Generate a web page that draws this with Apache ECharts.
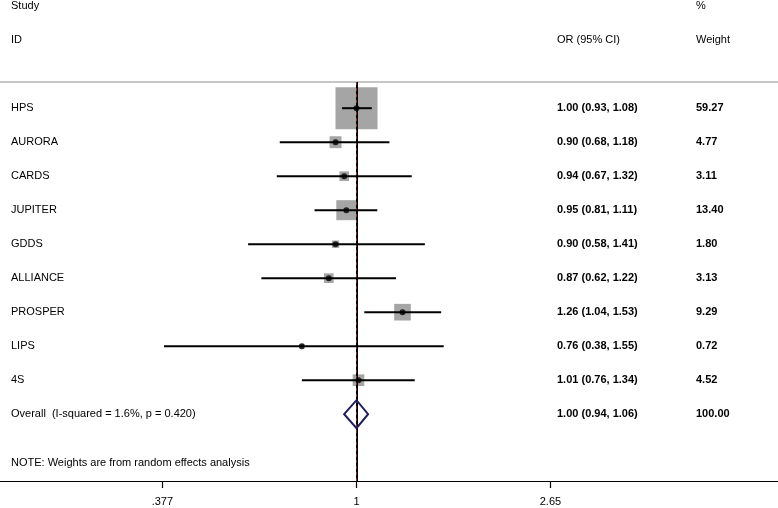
<!DOCTYPE html>
<html><head><meta charset="utf-8">
<script src="https://cdn.jsdelivr.net/npm/echarts@6/dist/echarts.min.js"></script>
<style>html,body{margin:0;padding:0;background:#fff}#c{width:778px;height:508px}</style>
</head><body><div id="c"></div>
<script>
// ---- data ----
const studies = ['HPS','AURORA','CARDS','JUPITER','GDDS','ALLIANCE','PROSPER','LIPS','4S'];
const orValues = [1.00, 0.90, 0.94, 0.95, 0.90, 0.87, 1.26, 0.76, 1.01];
const ciLow    = [0.93, 0.68, 0.67, 0.81, 0.58, 0.62, 1.04, 0.38, 0.76];
const ciHigh   = [1.08, 1.18, 1.32, 1.11, 1.41, 1.22, 1.53, 1.55, 1.34];
const weights  = [59.27, 4.77, 3.11, 13.40, 1.80, 3.13, 9.29, 0.72, 4.52];
const overallLabel = 'Overall  (I-squared = 1.6%, p = 0.420)';
const overallOR = 1.00, overallLow = 0.94, overallHigh = 1.06, overallWeight = 100.00;
const tickValues = [0.377, 1, 2.65];
const tickLabels = ['.377', '1', '2.65'];
const headerStudy = ['Study', 'ID'];
const headerOR = ['', 'OR (95% CI)'];
const headerWeight = ['%', 'Weight'];
const noteText = 'NOTE: Weights are from random effects analysis';
const nullValue = 1;

// ---- layout ----
const FONT = '"Liberation Sans", Arial, Helvetica, sans-serif';
const X_MIN = 0.1667, X_MAX = 8.316;
const Y_MIN = -3.182, Y_MAX = 10.965;
const SEP_ROW = -0.77, NOTE_ROW = 10.43;
const COL_STUDY = 11, COL_OR = 557, COL_W = 696;
const DIAMOND_HALF = 14;

const rows = studies.map((s, i) => i);
const fmt = v => v.toFixed(2);

const textRows = [
  {y: -3, a: headerStudy[0], b: headerOR[0], c: headerWeight[0], bold: false},
  {y: -2, a: headerStudy[1], b: headerOR[1], c: headerWeight[1], bold: false}
];
studies.forEach((s, i) => textRows.push({
  y: i, a: s, b: fmt(orValues[i]) + ' (' + fmt(ciLow[i]) + ', ' + fmt(ciHigh[i]) + ')',
  c: fmt(weights[i]), bold: true
}));
textRows.push({y: studies.length, a: overallLabel,
  b: fmt(overallOR) + ' (' + fmt(overallLow) + ', ' + fmt(overallHigh) + ')',
  c: fmt(overallWeight), bold: true});
textRows.push({y: NOTE_ROW, a: noteText, b: '', c: '', bold: false});

const chart = echarts.init(document.getElementById('c'), null, {renderer: 'canvas'});

const txt = (x, y, s, bold) => ({
  type: 'text', x: x, y: y,
  style: {text: s, fill: '#000', font: (bold ? 'bold ' : '') + '11px ' + FONT,
          textAlign: 'left', textVerticalAlign: 'middle'}
});

chart.setOption({
  animation: false,
  backgroundColor: '#fff',
  grid: {left: 0, right: 0, top: 0, bottom: 27, containLabel: false},
  xAxis: {
    type: 'log', logBase: 2.65, min: X_MIN, max: X_MAX,
    axisLine: {show: true, onZero: false, lineStyle: {color: '#000', width: 1}},
    axisTick: {show: true, length: 7, lineStyle: {color: '#000', width: 1.2}, customValues: tickValues},
    axisLabel: {show: true, margin: 15, color: '#000', fontSize: 11, fontFamily: FONT,
      customValues: tickValues,
      formatter: v => { let k = 0, d = Infinity; tickValues.forEach((t, i) => { const e = Math.abs(Math.log(t) - Math.log(v)); if (e < d) { d = e; k = i; } }); return tickLabels[k]; }},
    splitLine: {show: false}
  },
  yAxis: {
    type: 'value', inverse: true, min: Y_MIN, max: Y_MAX,
    show: false, splitLine: {show: false}
  },
  series: [
    { // weight boxes
      type: 'scatter', symbol: 'rect',
      data: rows.map(i => [orValues[i], i, weights[i]]),
      symbolSize: d => 5.46 * Math.sqrt(d[2]),
      itemStyle: {color: '#8e8e8e'},
      markLine: {
        silent: true, symbol: 'none', label: {show: false},
        data: [
          [{coord: [X_MIN, SEP_ROW]}, {coord: [X_MAX, SEP_ROW]}]
        ],
        lineStyle: {color: '#c6c6c6', width: 2, type: 'solid'}
      },
      z: 2
    },
    { // null line
      type: 'line', data: [], 
      markLine: {
        silent: true, symbol: 'none', label: {show: false},
        data: [[{coord: [nullValue, SEP_ROW]}, {coord: [nullValue, Y_MAX]}]],
        lineStyle: {color: '#000', width: 2, type: 'solid'}
      },
      z: 3
    },
    { // overall effect line
      type: 'line', data: [],
      markLine: {
        silent: true, symbol: 'none', label: {show: false},
        data: [[{coord: [overallOR, SEP_ROW]}, {coord: [overallOR, Y_MAX]}]],
        lineStyle: {color: '#b03030', width: 0.8, type: [3, 3]}
      },
      z: 4
    },
    { // CI lines
      type: 'custom',
      data: rows.map(i => [ciLow[i], ciHigh[i], i]),
      encode: {x: [0, 1], y: 2},
      renderItem: (params, api) => {
        const p1 = api.coord([api.value(0), api.value(2)]);
        const p2 = api.coord([api.value(1), api.value(2)]);
        return {type: 'line', shape: {x1: p1[0], y1: p1[1], x2: p2[0], y2: p2[1]},
                style: {stroke: '#000', lineWidth: 2}};
      },
      z: 5
    },
    { // point estimates
      type: 'scatter', symbol: 'circle', symbolSize: 6,
      data: rows.map(i => [orValues[i], i]),
      itemStyle: {color: '#000'}, z: 6
    },
    { // overall diamond
      type: 'custom',
      data: [[overallLow, overallOR, overallHigh, studies.length]],
      encode: {x: [0, 2], y: 3},
      renderItem: (params, api) => {
        const r = api.value(3);
        const l = api.coord([api.value(0), r]);
        const m = api.coord([api.value(1), r]);
        const h = api.coord([api.value(2), r]);
        return {type: 'polygon',
          shape: {points: [[l[0], l[1]], [m[0], m[1] - DIAMOND_HALF], [h[0], h[1]], [m[0], m[1] + DIAMOND_HALF]]},
          style: {fill: 'none', stroke: '#1e1e5a', lineWidth: 2}};
      },
      z: 7
    },
    { // text table
      type: 'custom', clip: false,
      data: textRows.map(r => [nullValue, r.y]),
      encode: {x: 0, y: 1},
      renderItem: (params, api) => {
        const r = textRows[params.dataIndex];
        const y = api.coord([nullValue, r.y])[1];
        const ch = [txt(COL_STUDY, y, r.a, false)];
        if (r.b) ch.push(txt(COL_OR, y, r.b, r.bold));
        if (r.c) ch.push(txt(COL_W, y, r.c, r.bold));
        return {type: 'group', children: ch};
      },
      z: 8
    }
  ]
});
</script>
</body></html>
